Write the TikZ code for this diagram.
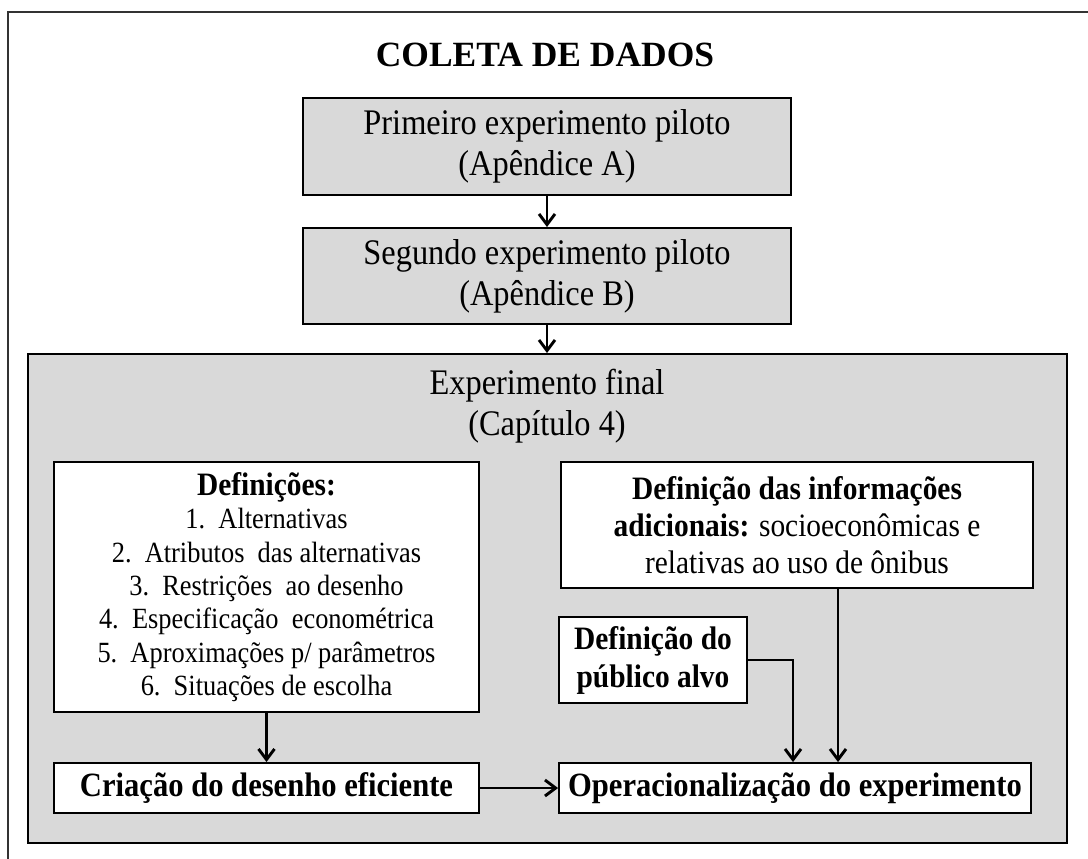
\documentclass[tikz,border=0pt]{standalone}
\usepackage{fontspec}
\setmainfont{Liberation Serif}[FakeStretch=0.9]
\newfontfamily\titlefamily{Liberation Serif}
\usetikzlibrary{arrows.meta}
\definecolor{boxgray}{HTML}{D9D9D9}
\definecolor{framegray}{HTML}{333333}
\begin{document}
\begin{tikzpicture}[x=0.75pt,y=-0.75pt,
  box/.style={draw=black, line width=1.4pt, inner sep=0pt, align=center},
  graybox/.style={box, fill=boxgray},
  whitebox/.style={box, fill=white},
  arr/.style={draw=black, line width=2.2pt, -{Straight Barb[length=8pt,width=12pt,line width=2.2pt]}},
  bigfont/.style={font=\fontsize{27}{30.75}\selectfont},
  boldfont/.style={font=\fontsize{24.5}{28.5}\selectfont\bfseries},
  rowfont/.style={font=\fontsize{25.5}{28.5}\selectfont\bfseries},
  infofont/.style={font=\fontsize{24.5}{27.75}\selectfont},
  listfont/.style={font=\fontsize{22}{25}\selectfont},
  titlefont/.style={font=\titlefamily\fontsize{26.6}{32}\selectfont\bfseries}
]
\useasboundingbox (0,0) rectangle (1088,859);
% outer frame (only left and top edges visible)
\draw[framegray, line width=1.2pt] (8,859) -- (8,12) -- (1088,12);

\node[titlefont] (title) at (545,55) {COLETA DE DADOS};

\node[graybox, bigfont, minimum width=366pt, minimum height=72.75pt] (b1) at (547,146.5)
  {Primeiro experimento piloto\\(Apêndice A)};
\node[graybox, bigfont, minimum width=366pt, minimum height=72pt] (b2) at (547,276)
  {Segundo experimento piloto\\(Apêndice B)};
\node[graybox, minimum width=779.25pt, minimum height=366.75pt] (big) at (547.5,598.5) {};
\node[bigfont, align=center] (bigtitle) at (547,406) {Experimento final\\(Capítulo 4)};

\node[whitebox, listfont, minimum width=318.75pt, minimum height=187.5pt] (def) at (266.5,587)
  {{\fontsize{24.5}{29}\selectfont\bfseries Definições:}\\
   1.~~Alternativas\\
   2.~~Atributos~ das alternativas\\
   3.~~Restrições~ ao desenho\\
   4.~~Especificação~ econométrica\\
   5.~~Aproximações p/ parâmetros\\
   6.~~Situações de escolha};

\node[whitebox, infofont, minimum width=354pt, minimum height=94.5pt] (info) at (797,525)
  {\textbf{Definição das informações}\\
   \textbf{adicionais:} socioeconômicas e\\
   relativas ao uso de ônibus};

\node[whitebox, boldfont, minimum width=141pt, minimum height=64.5pt] (pub) at (653,660)
  {Definição do\\público alvo};

\node[whitebox, rowfont, minimum width=318.75pt, minimum height=37.5pt] (cri) at (266.5,788)
  {Criação do desenho eficiente};
\node[whitebox, rowfont, minimum width=354pt, minimum height=37.5pt] (ope) at (795,788)
  {Operacionalização do experimento};

\coordinate (jpub) at (793,0);
\coordinate (jinfo) at (838,0);

\draw[arr] (b1) -- (b2);
\draw[arr] (b2) -- (big.north -| b2.south);
\draw[arr] (def) -- (cri);
\draw[arr] (cri) -- (ope);
\draw[arr] (pub.east) -| (ope.north -| jpub);
\draw[arr] (info.south -| jinfo) -- (ope.north -| jinfo);
\end{tikzpicture}
\end{document}
